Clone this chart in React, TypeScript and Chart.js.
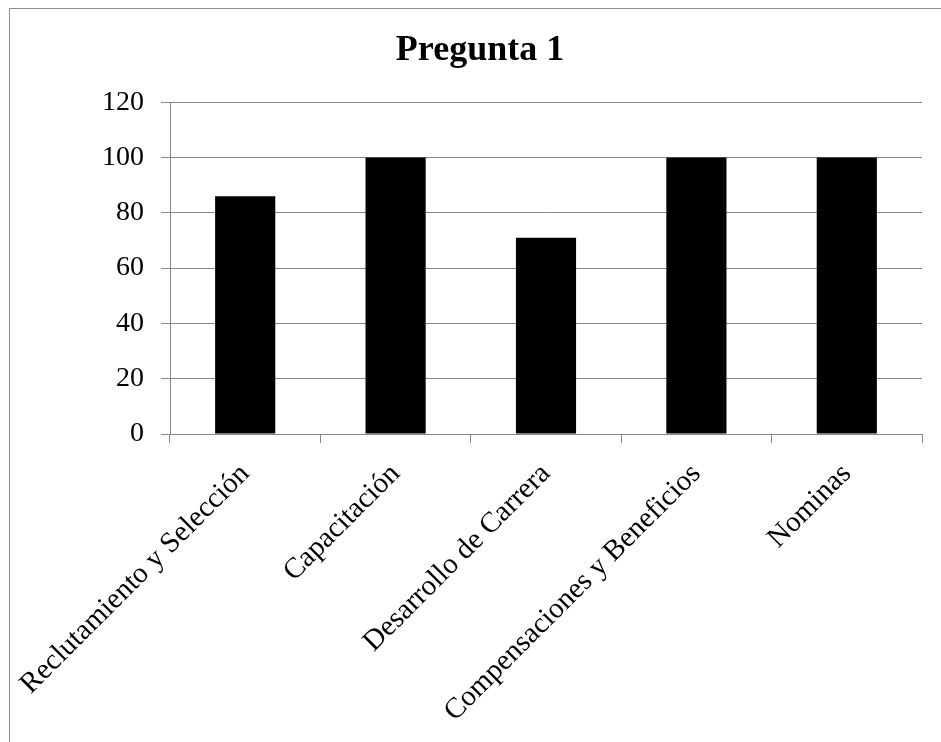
import React, { useEffect, useRef } from "react";
import { Chart, registerables } from "chart.js";

Chart.register(...registerables);

const categories = [
  "Reclutamiento y Selección",
  "Capacitación",
  "Desarrollo de Carrera",
  "Compensaciones y Beneficios",
  "Nominas",
];
const values = [86, 100, 71, 100, 100];
const yMin = 0;
const yMax = 120;
const yStep = 20;
const titleText = "Pregunta 1";

const FONT = "'Liberation Serif', 'Times New Roman', serif";
const GRID = "#878787";

export default function App() {
  const ref = useRef<HTMLCanvasElement | null>(null);
  useEffect(() => {
    if (!ref.current) return;
    const chart = new Chart(ref.current, {
      type: "bar",
      data: {
        labels: categories,
        datasets: [
          {
            data: values,
            backgroundColor: "#000000",
            borderWidth: 0,
            barPercentage: 0.4,
            categoryPercentage: 1,
          },
        ],
      },
      options: {
        animation: false,
        responsive: false,
        layout: { padding: { left: 28, right: 19, top: 0, bottom: 0 } },
        plugins: {
          legend: { display: false },
          tooltip: { enabled: false },
          title: {
            display: true,
            text: titleText,
            color: "#000",
            font: { family: FONT, size: 36, weight: "bold" },
            padding: { top: 20, bottom: 30 },
          },
        },
        scales: {
          x: {
            grid: {
              display: true,
              drawOnChartArea: false,
              drawTicks: true,
              tickLength: 9,
              color: GRID,
              offset: true,
            },
            border: { display: true, color: GRID, width: 1 },
            ticks: {
              color: "#000",
              font: { family: FONT, size: 29 },
              maxRotation: 45,
              minRotation: 45,
              padding: 14,
              autoSkip: false,
            },
            afterFit: (s: any) => {
              s.height = 308;
              s.paddingLeft = 0;
              s.paddingRight = 0;
            },
          },
          y: {
            min: yMin,
            max: yMax,
            grid: {
              color: GRID,
              tickLength: 9,
              drawTicks: true,
            },
            border: { display: true, color: GRID, width: 1 },
            ticks: {
              stepSize: yStep,
              color: "#000",
              font: { family: FONT, size: 28 },
              padding: 17,
            },
            afterFit: (s: any) => {
              s.width = 132;
            },
          },
        },
      },
    });
    return () => chart.destroy();
  }, []);
  return (
    <div
      style={{
        position: "fixed",
        left: 9,
        top: 8,
        width: 932,
        height: 734,
        borderLeft: "1px solid #8c8c8c",
        borderTop: "1px solid #8c8c8c",
        background: "#fff",
      }}
    >
      <canvas ref={ref} width={931} height={733} style={{ display: "block" }} />
    </div>
  );
}
